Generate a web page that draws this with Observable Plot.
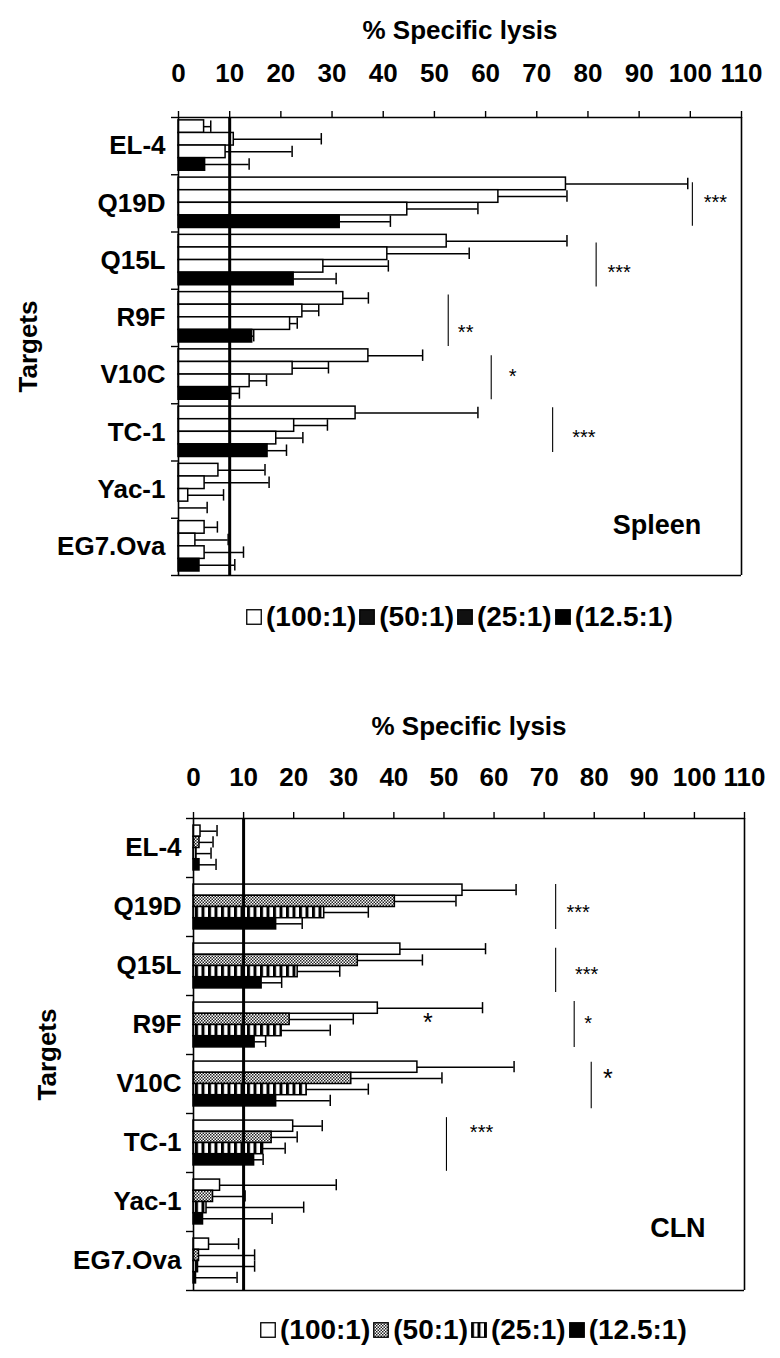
<!DOCTYPE html>
<html><head><meta charset="utf-8">
<script src="https://cdn.jsdelivr.net/npm/d3@7"></script>
<script src="https://cdn.jsdelivr.net/npm/@observablehq/plot@0.6"></script>
<style>
body{margin:0;background:#fff;font-family:Arial,"Liberation Sans",sans-serif;color:#000;}
#page{position:relative;width:780px;height:1358px;overflow:hidden;background:#fff;}
.abs{position:absolute;}
.plab{font-weight:bold;font-size:24px;}
.legend{display:flex;align-items:center;font-weight:bold;font-size:28px;white-space:nowrap;line-height:32px;}
.legend svg{margin:0 4px 0 3px;}
</style></head><body>
<svg width="0" height="0" style="position:absolute"><defs>
<pattern id="checker" width="3" height="3" patternUnits="userSpaceOnUse"><rect width="3" height="3" fill="#fff"/><rect width="1.5" height="1.5" fill="#222"/><rect x="1.5" y="1.5" width="1.5" height="1.5" fill="#222"/></pattern>
<pattern id="vstripes" width="6.5" height="10" patternUnits="userSpaceOnUse"><rect width="6.5" height="10" fill="#fff"/><rect width="3" height="10" fill="#000"/></pattern>
</defs></svg>
<div id="page">
  <div class="abs plab" style="left:21px;top:7px;">A</div>
  <div class="abs plab" style="left:21px;top:704px;">B</div>
  <div id="plotA" class="abs" style="left:0;top:0;"></div>
  <div id="legendA" class="abs legend" style="left:243px;top:601px;"></div>
  <div id="plotB" class="abs" style="left:0;top:690px;"></div>
  <div id="legendB" class="abs legend" style="left:257px;top:1314px;"></div>
</div>
<script>
// ---------- data ----------
const targets = ["EL-4","Q19D","Q15L","R9F","V10C","TC-1","Yac-1","EG7.Ova"];
const ratios = ["(100:1)","(50:1)","(25:1)","(12.5:1)"];
const xTicks = [0,10,20,30,40,50,60,70,80,90,100,110];

// Panel A: Spleen (% specific lysis, mean and SD)
const spleen100 = [5.0, 75.7, 52.4, 32.2, 37.1, 34.6, 7.8, 5.1];
const spleen100Sd = [1.3, 23.8, 23.5, 4.9, 10.6, 23.9, 9.1, 2.5];
const spleen50 = [10.8, 62.5, 40.8, 24.2, 22.3, 22.6, 5.1, 3.3];
const spleen50Sd = [17.1, 13.4, 16.0, 3.2, 7.0, 6.5, 12.6, 6.4];
const spleen25 = [9.2, 44.7, 28.3, 21.8, 13.9, 19.1, 1.9, 5.1];
const spleen25Sd = [13.0, 13.8, 12.7, 1.4, 3.3, 5.2, 6.9, 7.6];
const spleen12 = [5.2, 31.5, 22.5, 14.4, 10.3, 17.4, 0.0, 4.1];
const spleen12Sd = [8.6, 9.9, 8.3, 0.3, 1.6, 3.7, 5.6, 6.9];

// Panel B: CLN
const cln100 = [1.4, 53.7, 41.3, 36.8, 44.7, 19.9, 5.3, 3.1];
const cln100Sd = [3.3, 10.7, 17.0, 20.9, 19.3, 5.8, 23.2, 5.9];
const cln50 = [1.2, 40.2, 32.8, 19.2, 31.5, 15.6, 3.9, 1.1];
const cln50Sd = [2.7, 12.2, 12.9, 12.7, 18.1, 5.1, 6.4, 11.1];
const cln25 = [0.6, 26.1, 20.8, 17.6, 22.6, 13.9, 2.6, 0.9];
const cln25Sd = [2.9, 8.8, 8.4, 9.7, 12.3, 4.4, 19.4, 11.3];
const cln12 = [1.2, 16.5, 13.6, 12.2, 16.5, 12.1, 1.9, 0.5];
const cln12Sd = [3.3, 5.2, 4.0, 2.2, 10.8, 1.8, 13.8, 8.2];

// significance annotations
const sigATargets = ["Q19D","Q15L","R9F","V10C","TC-1"];
const sigAX = [100.4, 81.6, 52.7, 61.1, 73.1];
const sigALabels = ["***","***","**","*","***"];
const sigBTargets = ["Q19D","Q15L","R9F","V10C","TC-1","R9F"];
const sigBX = [72.3, 72.3, 76.0, 79.4, 50.5, null];
const sigBLabels = ["***","***","*","*","***","*"];

// ---------- layout helpers (positions/styles only) ----------
const sigALayout = [
  {f1:0.14,f2:0.90,lx:104.9,lf:0.39,fs:20},
  {f1:0.19,f2:0.96,lx:86.1,lf:0.61,fs:20},
  {f1:0.10,f2:1.00,lx:56.1,lf:0.66,fs:20},
  {f1:0.16,f2:0.93,lx:65.3,lf:0.42,fs:20},
  {f1:0.07,f2:0.85,lx:79.2,lf:0.49,fs:20}
];
const sigBLayout = [
  {f1:0.12,f2:0.88,lx:76.8,lf:0.49,fs:20},
  {f1:0.20,f2:0.95,lx:78.5,lf:0.54,fs:20},
  {f1:0.10,f2:0.88,lx:78.8,lf:0.37,fs:20},
  {f1:0.13,f2:0.92,lx:82.7,lf:0.32,fs:25},
  {f1:0.07,f2:0.98,lx:57.5,lf:0.23,fs:20},
  {f1:0,f2:0,lx:46.8,lf:0.37,fs:25}
];

const FONT = 'Arial, "Liberation Sans", sans-serif';

function panel(cfg) {
  const rows = [];
  targets.forEach((t, i) => ratios.forEach((r, j) => rows.push({
    i, j, target: t, ratio: r, mean: cfg.means[j][i], sd: cfg.sds[j][i]
  })));
  const {pad, bh, cap} = cfg;
  const top = d => d.i + pad + d.j * bh;
  const mid = d => d.i + pad + (d.j + 0.5) * bh;
  const sig = cfg.sigTargets.map((t, k) => ({
    gi: targets.indexOf(t), x: cfg.sigX[k], label: cfg.sigLabels[k], ...cfg.sigLayout[k]
  }));
  const sigLines = sig.filter(d => d.x != null);
  return Plot.plot({
    width: 780,
    height: cfg.height,
    marginTop: cfg.marginTop,
    marginBottom: cfg.marginBottom,
    marginLeft: cfg.marginLeft,
    marginRight: cfg.marginRight,
    style: {fontFamily: FONT, fontSize: "26px", fontWeight: "bold", background: "white", color: "black", overflow: "visible"},
    x: {domain: [0, 110], axis: null},
    y: {domain: [0, 8], reverse: true, axis: null},
    color: {domain: ratios, range: cfg.fills},
    marks: [
      // error bars
      Plot.ruleY(rows, {y: mid, x1: "mean", x2: d => d.mean + d.sd, stroke: "#000", strokeWidth: 1.5}),
      Plot.ruleX(rows, {x: d => d.mean + d.sd, y1: d => mid(d) - cap, y2: d => mid(d) + cap, stroke: "#000", strokeWidth: 1.5}),
      // bars
      Plot.rectX(rows, {x1: 0, x2: "mean", y1: top, y2: d => top(d) + bh, fill: "ratio", stroke: "#000", strokeWidth: 1.5}),
      // frame
      Plot.ruleX([0], {y1: 0, y2: 8, stroke: "#000", strokeWidth: 1.6}),
      Plot.ruleX([110], {y1: 0, y2: 8, stroke: "#000", strokeWidth: 1.6}),
      Plot.ruleY([0, 8], {x1: 0, x2: 110, stroke: "#000", strokeWidth: 1.6}),
      Plot.ruleX([10], {y1: 0, y2: 8, stroke: "#000", strokeWidth: 3}),
      // axes
      Plot.axisX({anchor: "top", ticks: xTicks, tickSize: 7, tickPadding: cfg.xTickPadding, tickFormat: d => String(d),
        label: "% Specific lysis", labelAnchor: "center", labelOffset: cfg.xLabelOffset, labelArrow: "none", strokeWidth: 1.4}),
      Plot.axisY({anchor: "left", ticks: d3.range(0, 9), tickSize: 7, tickFormat: () => "", label: null, strokeWidth: 1.4}),
      Plot.axisY({anchor: "left", ticks: d3.range(8).map(i => i + 0.5), tickSize: 0, tickPadding: cfg.catPadding,
        tickFormat: v => targets[Math.floor(v)], fontSize: 26,
        label: "Targets", labelAnchor: "center", labelOffset: cfg.yLabelOffset, labelArrow: "none"}),
      // significance
      Plot.ruleX(sigLines, {x: "x", y1: d => d.gi + d.f1, y2: d => d.gi + d.f2, stroke: "#000", strokeWidth: 1.1}),
      Plot.text(sig, {x: "lx", y: d => d.gi + d.lf, text: "label", fontSize: d => d.fs, fontWeight: "normal", dy: 6, textAnchor: "middle"}),
      // tissue label
      Plot.text([cfg.place], {x: "x", y: "y", text: "text", fontSize: 27, fontWeight: "bold", textAnchor: "middle"})
    ]
  });
}

const plotA = panel({
  means: [spleen100, spleen50, spleen25, spleen12],
  sds: [spleen100Sd, spleen50Sd, spleen25Sd, spleen12Sd],
  fills: ["#fff", "#fff", "#fff", "#000"],
  height: 600, marginTop: 117, marginBottom: 25, marginLeft: 178, marginRight: 39,
  pad: 0.05, bh: 0.22, cap: 0.10,
  xTickPadding: 29, xLabelOffset: 97, catPadding: 13, yLabelOffset: 160,
  sigTargets: sigATargets, sigX: sigAX, sigLabels: sigALabels, sigLayout: sigALayout,
  place: {text: "Spleen", x: 93.5, y: 7.12}
});
document.getElementById("plotA").appendChild(plotA);

const plotB = panel({
  means: [cln100, cln50, cln25, cln12],
  sds: [cln100Sd, cln50Sd, cln25Sd, cln12Sd],
  fills: ["#fff", "url(#checker)", "url(#vstripes)", "#000"],
  height: 610, marginTop: 128, marginBottom: 10, marginLeft: 193, marginRight: 36,
  pad: 0.12, bh: 0.19, cap: 0.095,
  xTickPadding: 26, xLabelOffset: 102, catPadding: 12, yLabelOffset: 156,
  sigTargets: sigBTargets, sigX: sigBX, sigLabels: sigBLabels, sigLayout: sigBLayout,
  place: {text: "CLN", x: 96.7, y: 6.95}
});
document.getElementById("plotB").appendChild(plotB);

// legends
function legend(el, fills) {
  const div = document.getElementById(el);
  ratios.forEach((r, k) => {
    const s = document.createElementNS("http://www.w3.org/2000/svg", "svg");
    s.setAttribute("width", 16); s.setAttribute("height", 16);
    const rect = document.createElementNS("http://www.w3.org/2000/svg", "rect");
    rect.setAttribute("x", 0.75); rect.setAttribute("y", 0.75);
    rect.setAttribute("width", 14.5); rect.setAttribute("height", 14.5);
    rect.setAttribute("fill", fills[k]); rect.setAttribute("stroke", "#000"); rect.setAttribute("stroke-width", 1.3);
    s.appendChild(rect);
    div.appendChild(s);
    const sp = document.createElement("span");
    sp.textContent = r;
    div.appendChild(sp);
  });
}
legend("legendA", ["#fff", "#111", "#111", "#000"]);
legend("legendB", ["#fff", "url(#checker)", "url(#vstripes)", "#000"]);
</script>
</body></html>
